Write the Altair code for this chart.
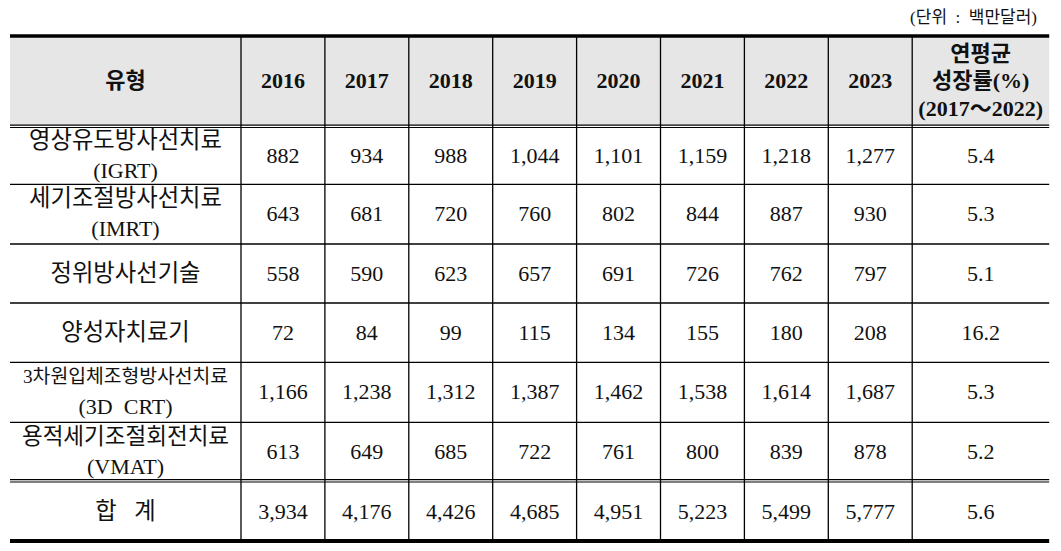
import altair as alt
import pandas as pd

# ---------------- data ----------------
NB = "\u00a0"
unit_note = f"(단위{NB}{NB}:{NB}{NB}백만달러)"
head_type = "유형"
years = ["2016", "2017", "2018", "2019", "2020", "2021", "2022", "2023"]
head_cagr = ["연평균", "성장률(%)", "(2017～2022)"]
types = [
    ["영상유도방사선치료", "(IGRT)"],
    ["세기조절방사선치료", "(IMRT)"],
    ["정위방사선기술"],
    ["양성자치료기"],
    ["3차원입체조형방사선치료", f"(3D{NB}{NB}CRT)"],
    ["용적세기조절회전치료", "(VMAT)"],
    [f"합{NB}{NB}{NB}계"],
]
v2016 = [882, 643, 558, 72, 1166, 613, 3934]
v2017 = [934, 681, 590, 84, 1238, 649, 4176]
v2018 = [988, 720, 623, 99, 1312, 685, 4426]
v2019 = [1044, 760, 657, 115, 1387, 722, 4685]
v2020 = [1101, 802, 691, 134, 1462, 761, 4951]
v2021 = [1159, 844, 726, 155, 1538, 800, 5223]
v2022 = [1218, 887, 762, 180, 1614, 839, 5499]
v2023 = [1277, 930, 797, 208, 1687, 878, 5777]
cagr = [5.4, 5.3, 5.1, 16.2, 5.3, 5.2, 5.6]
values = [v2016, v2017, v2018, v2019, v2020, v2021, v2022, v2023]

# ---------------- layout ----------------
FONT = "Liberation Serif, Noto Sans CJK KR"
LEFT = 10
col_w = [231] + [83.9] * 8 + [137]
col_edges = [LEFT]
for w in col_w:
    col_edges.append(col_edges[-1] + w)
col_mid = [(a + b) / 2 for a, b in zip(col_edges[:-1], col_edges[1:])]
row_edges = [36, 126.3, 184.3, 244, 303, 362.3, 422.3, 480.8, 541]
row_mid = [(a + b) / 2 for a, b in zip(row_edges[:-1], row_edges[1:])]
row_mid[1] += 1.0
row_mid[-1] += 1.0
RIGHT = col_edges[-1]

XS = alt.Scale(domain=[8, 1053], nice=False, zero=False)
YS = alt.Scale(domain=[8, 543], nice=False, zero=False, reverse=True)

# header background
bg = pd.DataFrame([{"x": col_edges[0], "x2": RIGHT, "y": row_edges[0], "y2": 125}])
bg_layer = alt.Chart(bg).mark_rect(color="#e6e6e6").encode(
    x=alt.X("x:Q", scale=XS, axis=None), x2="x2",
    y=alt.Y("y:Q", scale=YS, axis=None), y2="y2")

# horizontal lines
hl = []
hl.append({"y": row_edges[0], "w": 3.3})
for d in (-1.2, 1.2):
    hl.append({"y": row_edges[1] + d, "w": 1.1})
    hl.append({"y": row_edges[7] + d, "w": 1.1})
for e in row_edges[2:7]:
    hl.append({"y": e, "w": 1.3})
hl.append({"y": row_edges[8], "w": 4})
hdf = pd.DataFrame(hl)
hdf["x"] = col_edges[0]
hdf["x2"] = RIGHT
h_layer = alt.Chart(hdf).mark_rule(color="#000").encode(
    x=alt.X("x:Q", scale=XS, axis=None), x2="x2",
    y=alt.Y("y:Q", scale=YS, axis=None),
    strokeWidth=alt.StrokeWidth("w:Q", scale=None))

# vertical lines
vdf = pd.DataFrame({"x": col_edges[1:-1]})
vdf["y"] = row_edges[0]
vdf["y2"] = row_edges[-1]
v_layer = alt.Chart(vdf).mark_rule(color="#000", strokeWidth=1.3).encode(
    x=alt.X("x:Q", scale=XS, axis=None),
    y=alt.Y("y:Q", scale=YS, axis=None), y2="y2")

# header text
head = []
head.append({"t": head_type, "x": col_mid[0], "y": row_mid[0], "s": 22})
for i, yr in enumerate(years):
    head.append({"t": yr, "x": col_mid[i + 1], "y": row_mid[0], "s": 22})
n = len(head_cagr)
for k, t in enumerate(head_cagr):
    head.append({"t": t, "x": col_mid[-1], "y": row_mid[0] + (k - (n - 1) / 2) * 27.5, "s": 22})
head_df = pd.DataFrame(head)
head_layer = alt.Chart(head_df).mark_text(
    font=FONT, fontWeight="bold", color="#111", align="center", baseline="middle").encode(
    x=alt.X("x:Q", scale=XS, axis=None),
    y=alt.Y("y:Q", scale=YS, axis=None),
    text="t:N", size=alt.Size("s:Q", scale=None))


def label_size(t):
    hangul = sum(1 for c in t if ord(c) > 0x3000)
    other = len(t) - hangul
    if hangul == 0:
        return 22
    return min(23.3, 205 / (0.91 * hangul + 0.6 * other))


# body text
body = []
for r, lines in enumerate(types):
    yc = row_mid[r + 1]
    m = len(lines)
    for k, t in enumerate(lines):
        body.append({"t": t, "x": col_mid[0], "y": yc + (k - (m - 1) / 2) * 30, "s": label_size(t)})
    for c in range(len(years)):
        body.append({"t": f"{values[c][r]:,}", "x": col_mid[c + 1], "y": yc, "s": 22})
    body.append({"t": f"{cagr[r]:.1f}", "x": col_mid[-1], "y": yc, "s": 22})
body_df = pd.DataFrame(body)
body_layer = alt.Chart(body_df).mark_text(
    font=FONT, color="#111", align="center", baseline="middle").encode(
    x=alt.X("x:Q", scale=XS, axis=None),
    y=alt.Y("y:Q", scale=YS, axis=None),
    text="t:N", size=alt.Size("s:Q", scale=None))

# unit note
note_df = pd.DataFrame([{"t": unit_note, "x": 1037, "y": 18}])
note_layer = alt.Chart(note_df).mark_text(
    font=FONT, fontSize=17, color="#111", align="right", baseline="middle").encode(
    x=alt.X("x:Q", scale=XS, axis=None),
    y=alt.Y("y:Q", scale=YS, axis=None),
    text="t:N")

chart = alt.layer(bg_layer, h_layer, v_layer, head_layer, body_layer, note_layer).properties(
    width=1045, height=535, padding=0, autosize="none", background="white"
).configure_view(stroke=None)

chart.save("out.html", embed_options={"renderer": "svg", "actions": False})
